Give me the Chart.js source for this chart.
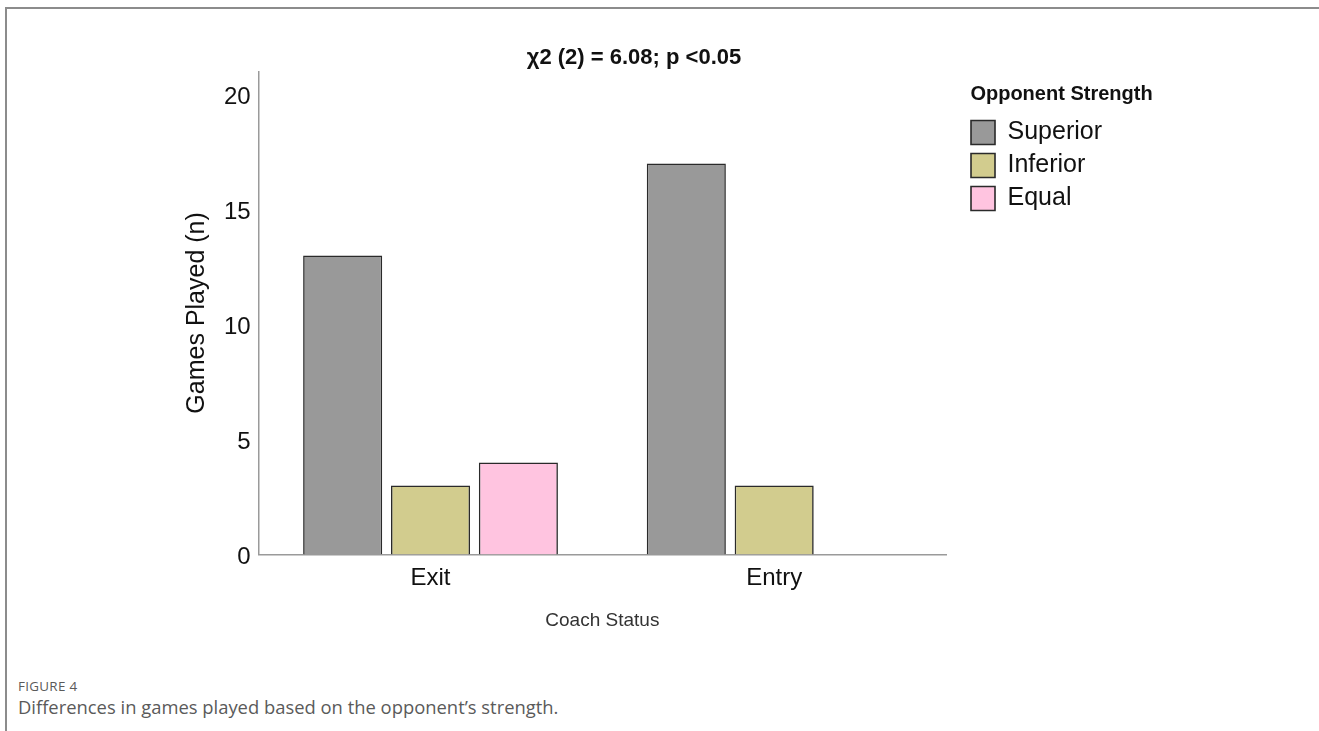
<!DOCTYPE html>
<html>
<head>
<meta charset="utf-8">
<script src="https://cdn.jsdelivr.net/npm/chart.js@4/dist/chart.umd.min.js"></script>
<style>
  html, body { margin: 0; padding: 0; background: #fff; }
  body { width: 1319px; height: 731px; position: relative; overflow: hidden; }
  .frame {
    position: absolute; left: 5px; top: 7px; right: -4px; bottom: -4px;
    border-left: 2px solid #8c8c8c; border-top: 2px solid #8c8c8c;
  }
  #wrap { position: absolute; left: 0; top: 0; width: 1319px; height: 645px; }
  .caption { position: absolute; left: 18px; font-family: "Open Sans", sans-serif; color: #5a5a5a; white-space: nowrap; }
  .fig { top: 677px; font-size: 13.4px; letter-spacing: 0.3px; }
  .desc { top: 694px; font-size: 18.4px; }
</style>
</head>
<body>
<div class="frame"></div>
<div id="wrap"><canvas id="chart"></canvas></div>
<div class="caption fig">FIGURE 4</div>
<div class="caption desc">Differences in games played based on the opponent’s strength.</div>

<script>
const coachStatus = ["Exit", "Entry"];
const superior = [13, 17];
const inferior = [3, 3];
const equal = [4, null];
const yTicks = [0, 5, 10, 15, 20];

const FONT = "'Liberation Sans', Arial, sans-serif";

// nudge the legend a bit away from the plot and give its title room
const legendShift = {
  id: "legendShift",
  afterLayout(chart) {
    const lg = chart.legend;
    lg.left = chart.chartArea.right + 17;
    lg.width = 197;
    lg.right = lg.left + lg.width;
  },
};

new Chart(document.getElementById("chart"), {
  type: "bar",
  data: {
    labels: coachStatus,
    datasets: [
      { label: "Superior", data: superior, backgroundColor: "#999999" },
      { label: "Inferior", data: inferior, backgroundColor: "#d2cc8e" },
      { label: "Equal", data: equal, backgroundColor: "#ffc4e0" },
    ].map(ds => ({
      ...ds,
      borderColor: "#2a2a2a",
      borderWidth: 1.6,
      categoryPercentage: 0.767,
      barPercentage: 0.9,
    })),
  },
  plugins: [legendShift],
  options: {
    responsive: true,
    maintainAspectRatio: false,
    animation: false,
    layout: { padding: { top: 30, left: 173, right: 224, bottom: 9 } },
    plugins: {
      tooltip: { enabled: false },
      title: {
        display: true,
        text: "χ2 (2) = 6.08; p <0.05",
        color: "#111",
        font: { family: FONT, size: 22, weight: "bold" },
        padding: { top: 15, bottom: 0 },
      },
      legend: {
        position: "right",
        align: "start",
        title: {
          display: true,
          text: "Opponent Strength",
          position: "center",
          color: "#111",
          font: { family: FONT, size: 20, weight: "bold" },
          padding: { top: 54, bottom: 4 },
        },
        labels: {
          color: "#111",
          font: { family: FONT, size: 25 },
          boxWidth: 24,
          boxHeight: 24,
          padding: 8,
        },
      },
    },
    scales: {
      x: {
        grid: { display: false, drawTicks: false },
        border: { display: true, color: "#9a9a9a", width: 1.5 },
        ticks: { color: "#111", font: { family: FONT, size: 24 }, padding: 10 },
        title: {
          display: true,
          text: "Coach Status",
          color: "#333",
          font: { family: FONT, size: 19 },
          padding: { top: 6, bottom: 4 },
        },
      },
      y: {
        min: 0,
        max: 21,
        grid: { display: false, drawTicks: false },
        border: { display: true, color: "#9a9a9a", width: 1.5 },
        afterBuildTicks: axis => { axis.ticks = yTicks.map(v => ({ value: v })); },
        ticks: { color: "#111", font: { family: FONT, size: 24 }, padding: 8, labelOffset: 3 },
        title: {
          display: true,
          text: "Games Played (n)",
          color: "#111",
          font: { family: FONT, size: 25 },
          padding: { top: 9, bottom: 4 },
        },
      },
    },
  },
});
</script>
</body>
</html>
